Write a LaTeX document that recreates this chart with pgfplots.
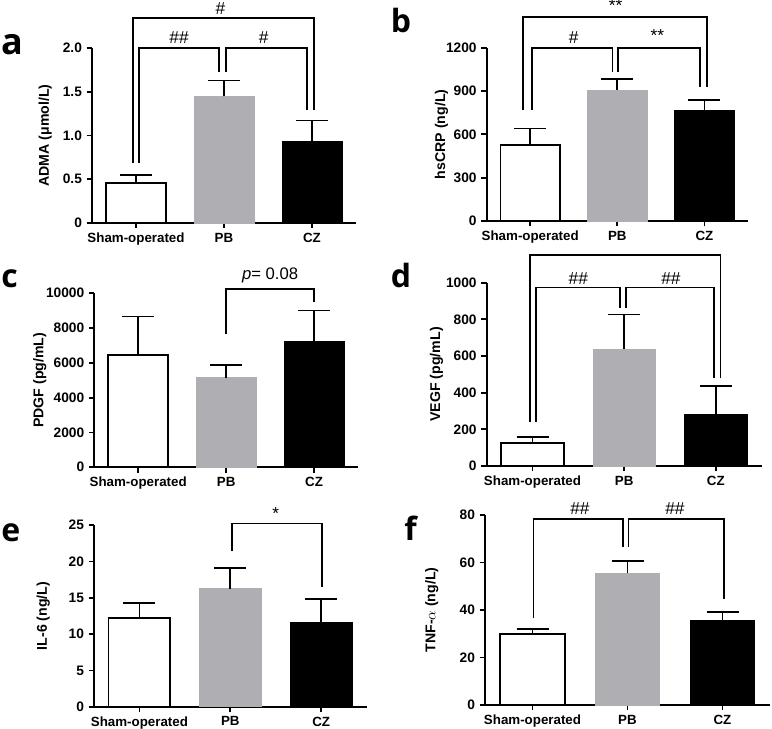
\documentclass[border=0pt]{standalone}
\usepackage{fontspec}
\setmainfont{Liberation Sans}
\newfontfamily\letfont{Open Sans}
\usepackage{pgfplots}
\pgfplotsset{compat=1.18}
\definecolor{pbgray}{RGB}{174,174,179}
\pgfplotsset{
  panel/.style={
    scale only axis, clip=false, anchor=south west,
    axis lines*=left,
    axis line style={line width=1.3pt},
    xmin=-0.5, xmax=2.5, ymin=0,
    xtick={0,1,2}, xticklabels={Sham-operated,PB,CZ},
    scaled y ticks=false,
    tick align=outside, major tick length=4pt,
    every tick/.style={line width=1.3pt, black},
    tick label style={font=\fontsize{10.3}{12}\selectfont\bfseries},
    x tick label style={font=\fontsize{10}{12}\selectfont\bfseries},
    label style={font=\fontsize{10.6}{12}\selectfont\bfseries},
    ylabel style={anchor=center},
    /pgf/number format/assume math mode=true,
  },
  errs/.style={error bars/.cd, y dir=plus, y explicit,
    error bar style={line width=1.3pt, black},
    error mark=-,
    error mark options={rotate=90, line width=1.3pt, black, mark size=12pt}},
  bw/.style={ybar, bar width=0.68, bar shift=0pt, fill=white, draw=black, line width=1.3pt, errs},
  bg/.style={ybar, bar width=0.68, bar shift=0pt, fill=pbgray, draw=pbgray, line width=0.5pt, errs},
  bk/.style={ybar, bar width=0.68, bar shift=0pt, fill=black, draw=black, line width=0.5pt, errs},
}
\tikzset{
  br/.style={line width=1.3pt, black},
  sig/.style={font=\fontsize{13}{14}\selectfont},
  let/.style={font=\letfont\bfseries\fontsize{24}{24}\selectfont, inner sep=0pt},
}
\begin{document}
\begin{tikzpicture}
\useasboundingbox (0,0) rectangle (579pt,546.75pt);
% ---------- a ----------
\begin{axis}[panel, at={(69pt,379.5pt)}, width=198pt, height=131.25pt,
  ymax=2, ytick={0,0.5,1,1.5,2}, yticklabels={0,0.5,1.0,1.5,2.0},
  ylabel={ADMA (μmol/L)}, ylabel style={at={(axis description cs:-0.177,0.5)}}]
\addplot[bw] coordinates {(0,0.457) +- (0,0.095)};
\addplot[bg] coordinates {(1,1.448) +- (0,0.179)};
\addplot[bk] coordinates {(2,0.933) +- (0,0.237)};
\draw[br] (axis cs:0.03,0.68) |- (axis cs:0.94,2.0) -- (axis cs:0.94,1.73);
\draw[br] (axis cs:1.02,1.73) |- (axis cs:1.94,2.0) -- (axis cs:1.94,1.29);
\draw[br] (axis cs:-0.03,0.68) |- (axis cs:2.02,2.34) -- (axis cs:2.02,1.29);
\node[sig] at (axis cs:0.49,2.12) {\#\#};
\node[sig] at (axis cs:1.45,2.12) {\#};
\node[sig] at (axis cs:0.96,2.45) {\#};
\end{axis}
% ---------- b ----------
\begin{axis}[panel, at={(365pt,381pt)}, width=196pt, height=130pt,
  ymax=1200, ytick={0,300,600,900,1200}, yticklabels={0,300,600,900,1200},
  ylabel={hsCRP (ng/L)}, ylabel style={at={(axis description cs:-0.173,0.5)}}]
\addplot[bw] coordinates {(0,526) +- (0,115)};
\addplot[bg] coordinates {(1,907) +- (0,76)};
\addplot[bk] coordinates {(2,768) +- (0,72)};
\draw[br] (axis cs:0.02,768) |- (axis cs:0.945,1200) -- (axis cs:0.945,1034);
\draw[br] (axis cs:1.01,1034) |- (axis cs:1.95,1200) -- (axis cs:1.95,925);
\draw[br] (axis cs:-0.08,768) |- (axis cs:2.03,1410) -- (axis cs:2.03,925);
\node[sig] at (axis cs:0.5,1272) {\#};
\node[sig] at (axis cs:1.46,1285) {**};
\node[sig] at (axis cs:0.98,1490) {**};
\end{axis}
% ---------- c ----------
\begin{axis}[panel, at={(70.7pt,196.3pt)}, width=197.8pt, height=130.5pt,
  ymax=10000, ytick={0,2000,4000,6000,8000,10000}, yticklabels={0,2000,4000,6000,8000,10000},
  ylabel={PDGF (pg/mL)}, ylabel style={at={(axis description cs:-0.207,0.5)}}]
\addplot[bw] coordinates {(0,6456) +- (0,2203)};
\addplot[bg] coordinates {(1,5153) +- (0,728)};
\addplot[bk] coordinates {(2,7222) +- (0,1782)};
\draw[br] (axis cs:1.0,7663) |- (axis cs:2.0,10230) -- (axis cs:2.0,9483);
\node[font=\fontsize{12.5}{14}\selectfont] at (axis cs:1.5,11054) {\textit{p}= 0.08};
\end{axis}
% ---------- d ----------
\begin{axis}[panel, at={(365pt,197.25pt)}, width=206.25pt, height=137.5pt,
  ymax=1000, ytick={0,200,400,600,800,1000}, yticklabels={0,200,400,600,800,1000},
  ylabel={VEGF (pg/mL)}, ylabel style={at={(axis description cs:-0.182,0.5)}}]
\addplot[bw] coordinates {(0,127) +- (0,33)};
\addplot[bg] coordinates {(1,638) +- (0,189)};
\addplot[bk] coordinates {(2,284) +- (0,152)};
\draw[br] (axis cs:0.036,242) |- (axis cs:0.955,973) -- (axis cs:0.955,864);
\draw[br] (axis cs:1.02,864) |- (axis cs:1.98,973) -- (axis cs:1.98,482);
\draw[br] (axis cs:-0.03,242) |- (axis cs:2.05,1151) -- (axis cs:2.05,482);
\node[sig] at (axis cs:0.5,1024) {\#\#};
\node[sig] at (axis cs:1.51,1024) {\#\#};
\end{axis}
% ---------- e ----------
\begin{axis}[panel, at={(70.5pt,16.7pt)}, width=204.5pt, height=136.25pt,
  ymax=25, ytick={0,5,10,15,20,25}, yticklabels={0,5,10,15,20,25},
  ylabel={IL-6 (ng/L)}, ylabel style={at={(axis description cs:-0.186,0.5)}}]
\addplot[bw] coordinates {(0,12.25) +- (0,2.05)};
\addplot[bg] coordinates {(1,16.24) +- (0,2.89)};
\addplot[bk] coordinates {(2,11.56) +- (0,3.3)};
\draw[br] (axis cs:1.02,21.47) |- (axis cs:2.005,25.23) -- (axis cs:2.005,16.5);
\node[sig] at (axis cs:1.5,26.6) {*};
\end{axis}
% ---------- f ----------
\begin{axis}[panel, at={(363.75pt,18pt)}, width=213.75pt, height=142.5pt,
  ymax=80, ytick={0,20,40,60,80}, yticklabels={0,20,40,60,80},
  ylabel={TNF-$\alpha$ (ng/L)}, ylabel style={at={(axis description cs:-0.187,0.5)}}]
\addplot[bw] coordinates {(0,29.75) +- (0,2.1)};
\addplot[bg] coordinates {(1,55.44) +- (0,5.33)};
\addplot[bk] coordinates {(2,35.5) +- (0,3.8)};
\draw[br] (axis cs:0.01,36.5) |- (axis cs:0.95,78.2) -- (axis cs:0.95,66.4);
\draw[br] (axis cs:1.01,66.4) |- (axis cs:2.016,78.2) -- (axis cs:2.016,44.6);
\node[sig] at (axis cs:0.5,82.8) {\#\#};
\node[sig] at (axis cs:1.5,82.8) {\#\#};
\end{axis}
% ---------- panel letters ----------
\node[let, font=\letfont\bfseries\fontsize{27}{27}\selectfont, anchor=west] at (0.8pt,513pt) {a};
\node[let, anchor=west] at (293pt,531pt) {b};
\node[let, anchor=west] at (0.8pt,337.5pt) {c};
\node[let, anchor=west] at (293pt,339.75pt) {d};
\node[let, anchor=west] at (0.8pt,147.4pt) {e};
\node[let, anchor=west] at (303pt,150.4pt) {f};
\end{tikzpicture}
\end{document}
